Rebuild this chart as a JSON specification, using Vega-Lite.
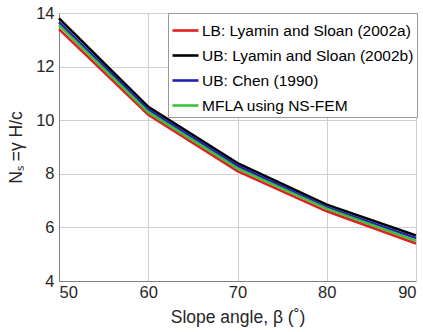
{
  "$schema": "https://vega.github.io/schema/vega-lite/v6.json",
  "width": 357,
  "height": 268,
  "autosize": {"type": "none"},
  "padding": {"left": 59, "top": 13, "right": 7, "bottom": 51},
  "background": "white",
  "config": {
    "font": "Liberation Sans",
    "view": {"stroke": null},
    "axis": {
      "labelFont": "Liberation Sans",
      "titleFont": "Liberation Sans",
      "labelFontSize": 16.5,
      "titleFontSize": 17.5,
      "labelColor": "#262626",
      "titleColor": "#262626",
      "titleFontWeight": "normal",
      "domainColor": "#808080",
      "tickColor": "#808080",
      "tickSize": 0
    }
  },
  "data": {
    "values": [
      {"angle": 50, "Ns": 13.4, "series": "LB: Lyamin and Sloan (2002a)"},
      {"angle": 60, "Ns": 10.2, "series": "LB: Lyamin and Sloan (2002a)"},
      {"angle": 70, "Ns": 8.1, "series": "LB: Lyamin and Sloan (2002a)"},
      {"angle": 80, "Ns": 6.6, "series": "LB: Lyamin and Sloan (2002a)"},
      {"angle": 90, "Ns": 5.4, "series": "LB: Lyamin and Sloan (2002a)"},
      {"angle": 50, "Ns": 13.8, "series": "UB: Lyamin and Sloan (2002b)"},
      {"angle": 60, "Ns": 10.5, "series": "UB: Lyamin and Sloan (2002b)"},
      {"angle": 70, "Ns": 8.4, "series": "UB: Lyamin and Sloan (2002b)"},
      {"angle": 80, "Ns": 6.85, "series": "UB: Lyamin and Sloan (2002b)"},
      {"angle": 90, "Ns": 5.7, "series": "UB: Lyamin and Sloan (2002b)"},
      {"angle": 50, "Ns": 13.65, "series": "UB: Chen (1990)"},
      {"angle": 60, "Ns": 10.4, "series": "UB: Chen (1990)"},
      {"angle": 70, "Ns": 8.3, "series": "UB: Chen (1990)"},
      {"angle": 80, "Ns": 6.75, "series": "UB: Chen (1990)"},
      {"angle": 90, "Ns": 5.6, "series": "UB: Chen (1990)"},
      {"angle": 50, "Ns": 13.55, "series": "MFLA using NS-FEM"},
      {"angle": 60, "Ns": 10.3, "series": "MFLA using NS-FEM"},
      {"angle": 70, "Ns": 8.2, "series": "MFLA using NS-FEM"},
      {"angle": 80, "Ns": 6.7, "series": "MFLA using NS-FEM"},
      {"angle": 90, "Ns": 5.5, "series": "MFLA using NS-FEM"}
    ]
  },
  "mark": {"type": "line", "strokeWidth": 2.6},
  "encoding": {
    "x": {
      "field": "angle", "type": "quantitative",
      "scale": {"domain": [50, 90], "nice": false},
      "axis": {"values": [50, 60, 70, 80, 90], "title": "Slope angle, β (˚)", "labelPadding": 3, "titlePadding": 8, "grid": true, "gridColor": "#d0d0d0", "gridWidth": 1, "gridOpacity": 1, "zindex": 0}
    },
    "y": {
      "field": "Ns", "type": "quantitative",
      "scale": {"domain": [4, 14], "nice": false, "zero": false},
      "axis": {"values": [4, 6, 8, 10, 12, 14], "title": "Nₛ =γ H/c", "labelPadding": 5, "titlePadding": 10, "grid": true, "gridColor": "#d0d0d0", "gridWidth": 1, "gridOpacity": 1, "zindex": 0}
    },
    "color": {
      "field": "series", "type": "nominal",
      "scale": {
        "domain": ["LB: Lyamin and Sloan (2002a)", "UB: Lyamin and Sloan (2002b)", "UB: Chen (1990)", "MFLA using NS-FEM"],
        "range": ["#e02020", "#000000", "#2020b0", "#3cc03c"]
      },
      "legend": {
        "title": null,
        "orient": "none",
        "legendX": 109,
        "legendY": 0,
        "symbolType": "M-1,0L1,0",
        "symbolSize": 676,
        "symbolStrokeWidth": 2.6,
        "labelFontSize": 15.5,
        "labelColor": "#000000",
        "labelFont": "Liberation Sans",
        "labelOffset": 2,
        "labelLimit": 300,
        "rowPadding": 2,
        "padding": 3,
        "strokeColor": "#999999",
        "fillColor": "white"
      }
    }
  }
}
